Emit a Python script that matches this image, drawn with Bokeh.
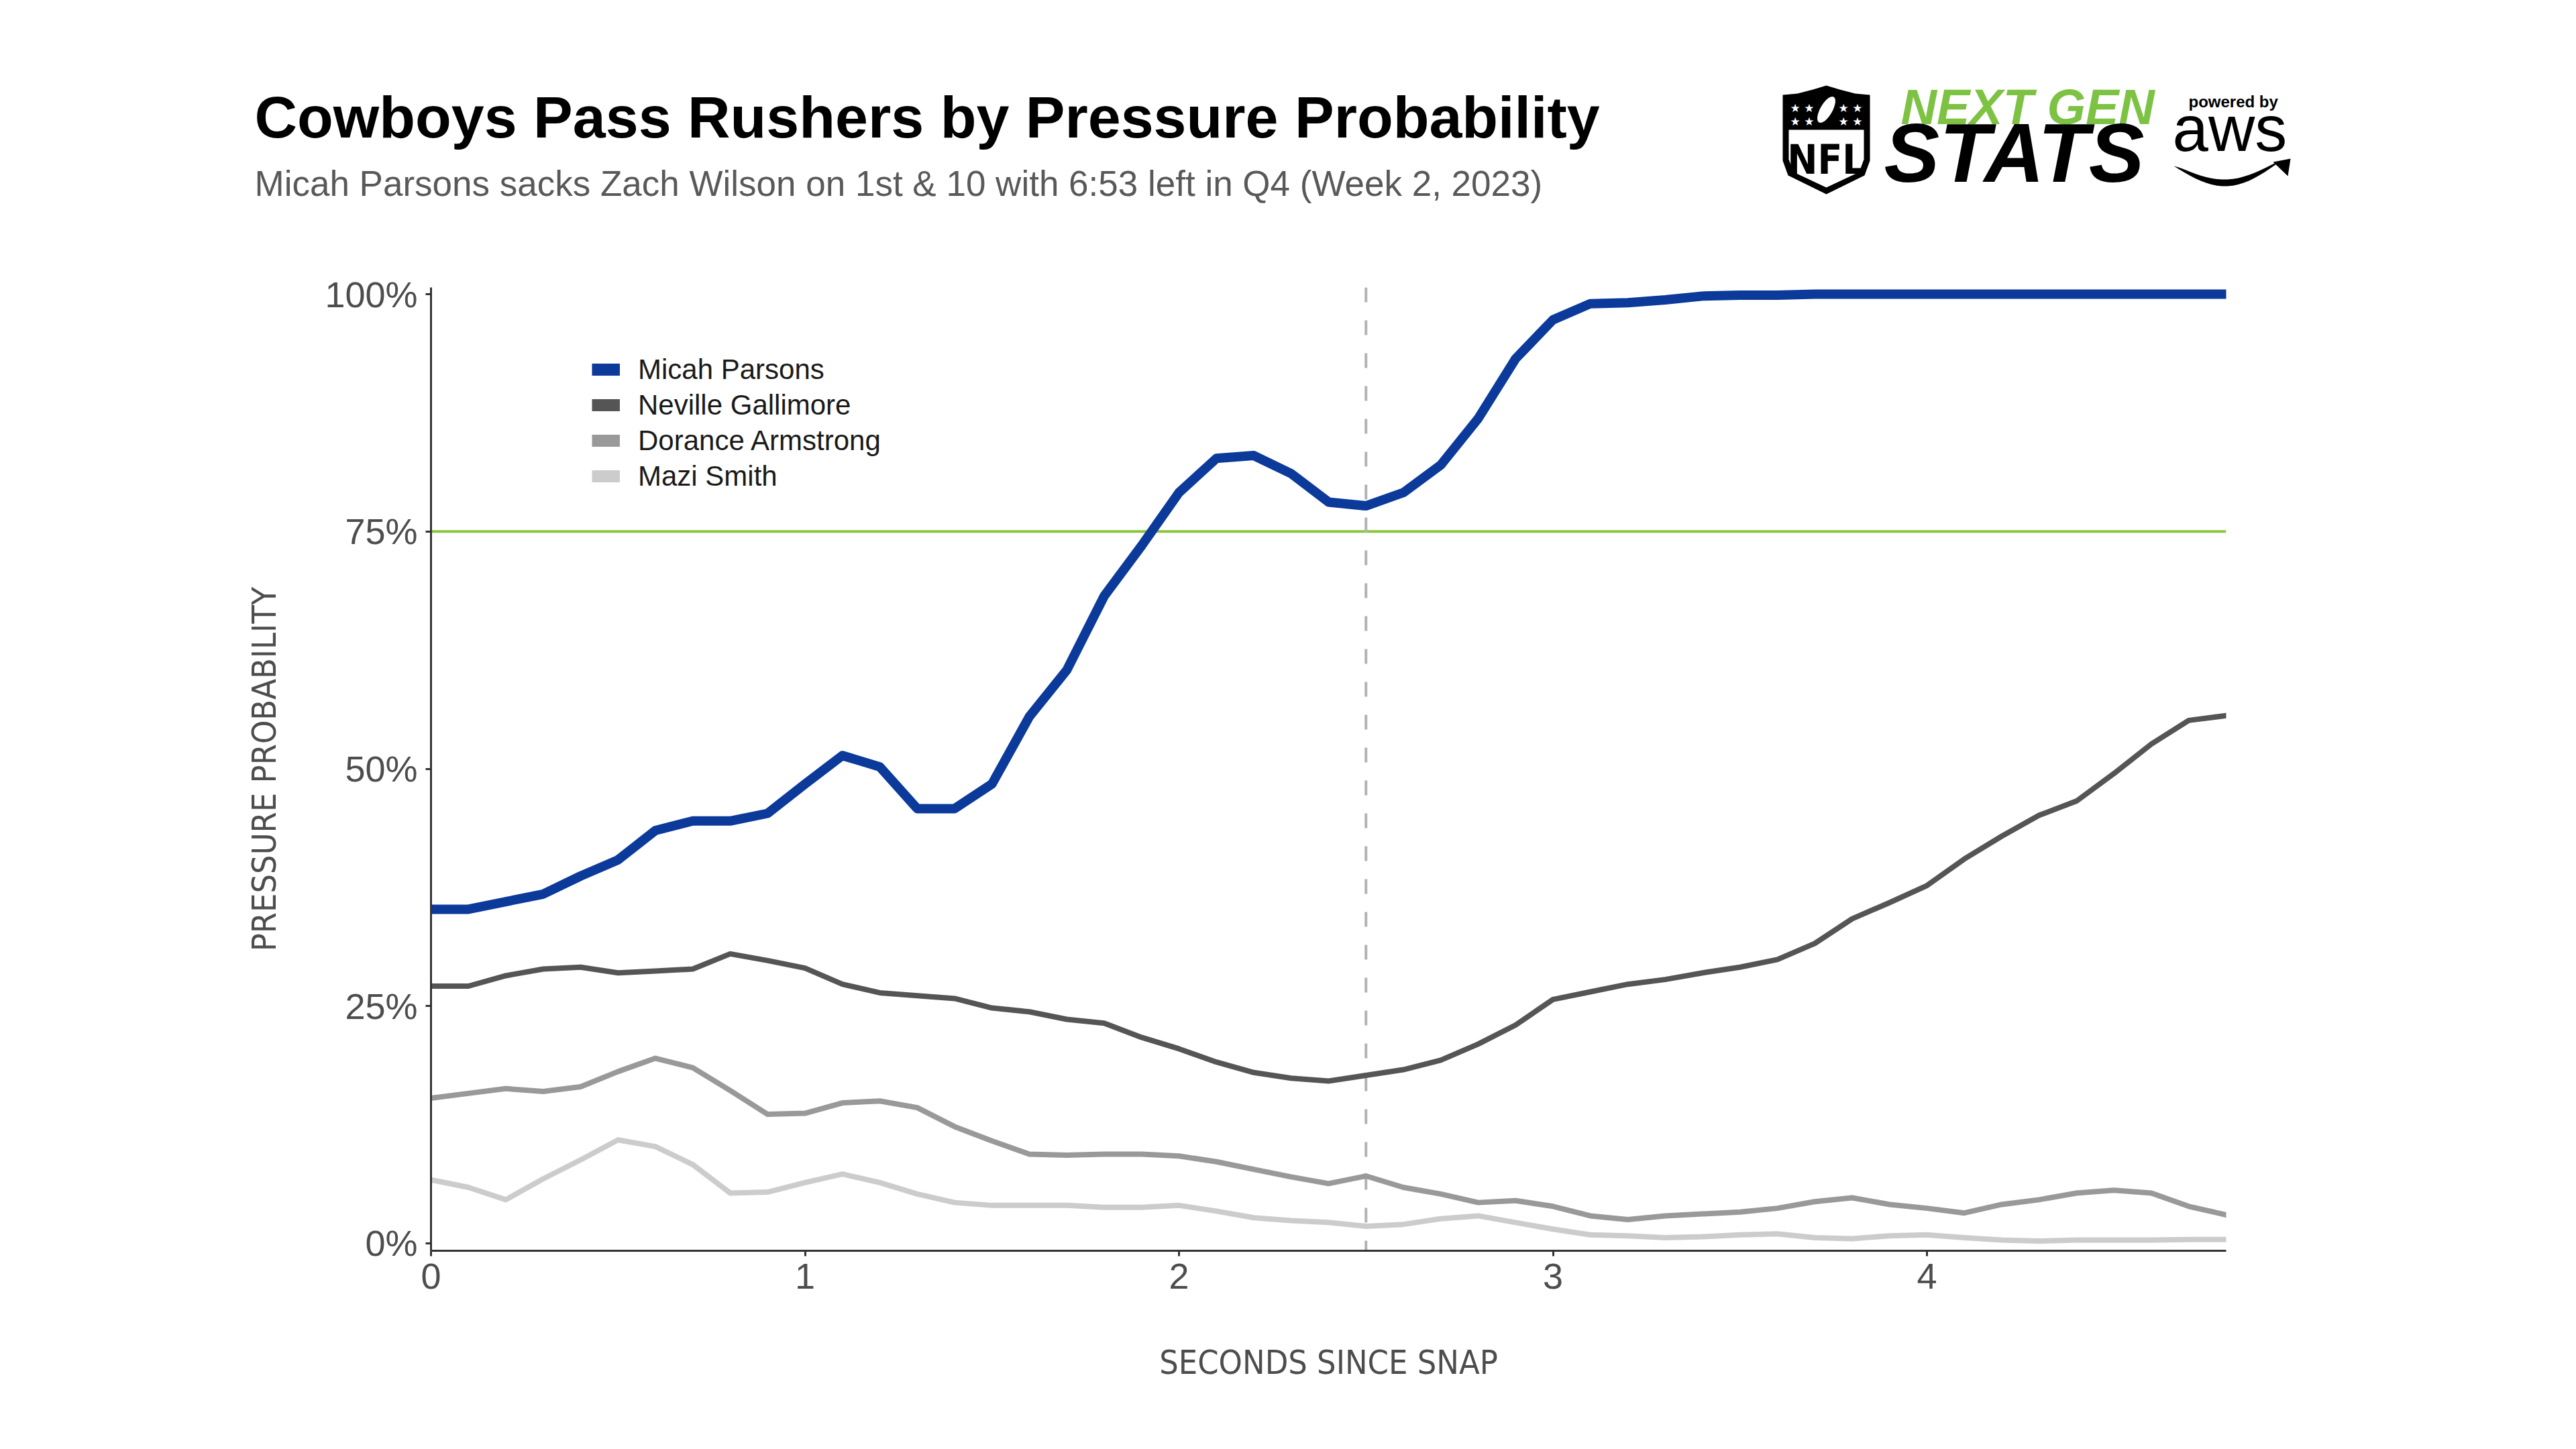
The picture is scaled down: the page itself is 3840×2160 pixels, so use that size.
import math
from bokeh.plotting import figure
from bokeh.models import (Span, Legend, LegendItem, FixedTicker, PrintfTickFormatter, Range1d)
from bokeh.core.properties import value
from bokeh.embed import file_html
from bokeh.resources import INLINE

# ---------------- data ----------------
seconds = [0.0, 0.1, 0.2, 0.3, 0.4, 0.5, 0.6, 0.7, 0.8, 0.9,
           1.0, 1.1, 1.2, 1.3, 1.4, 1.5, 1.6, 1.7, 1.8, 1.9,
           2.0, 2.1, 2.2, 2.3, 2.4, 2.5, 2.6, 2.7, 2.8, 2.9,
           3.0, 3.1, 3.2, 3.3, 3.4, 3.5, 3.6, 3.7, 3.8, 3.9,
           4.0, 4.1, 4.2, 4.3, 4.4, 4.5, 4.6, 4.7, 4.8]

micah_parsons = [35.2, 35.2, 36.0, 36.8, 38.7, 40.4, 43.5, 44.5, 44.5, 45.3,
                 48.4, 51.4, 50.2, 45.8, 45.8, 48.4, 55.5, 60.4, 68.2, 73.5,
                 79.1, 82.7, 83.0, 81.1, 78.1, 77.7, 79.1, 82.0, 86.9, 93.2,
                 97.3, 99.0, 99.1, 99.4, 99.8, 99.9, 99.9, 100.0, 100.0, 100.0,
                 100.0, 100.0, 100.0, 100.0, 100.0, 100.0, 100.0, 100.0, 100.0]

neville_gallimore = [27.1, 27.1, 28.2, 28.9, 29.1, 28.5, 28.7, 28.9, 30.5, 29.8,
                     29.0, 27.3, 26.4, 26.1, 25.8, 24.8, 24.4, 23.6, 23.2, 21.7,
                     20.5, 19.1, 18.0, 17.4, 17.1, 17.7, 18.3, 19.3, 21.0, 23.0,
                     25.7, 26.5, 27.3, 27.8, 28.5, 29.1, 29.9, 31.6, 34.2, 35.9,
                     37.7, 40.5, 42.9, 45.1, 46.6, 49.5, 52.6, 55.1, 55.6]

dorance_armstrong = [15.3, 15.8, 16.3, 16.0, 16.5, 18.1, 19.5, 18.5, 16.1, 13.6,
                     13.7, 14.8, 15.0, 14.3, 12.3, 10.8, 9.4, 9.3, 9.4, 9.4,
                     9.2, 8.6, 7.8, 7.0, 6.3, 7.1, 5.9, 5.2, 4.3, 4.5,
                     3.9, 2.9, 2.5, 2.9, 3.1, 3.3, 3.7, 4.4, 4.8, 4.1,
                     3.7, 3.2, 4.1, 4.6, 5.3, 5.6, 5.3, 3.9, 3.0]

mazi_smith = [6.7, 5.9, 4.6, 6.8, 8.8, 10.9, 10.2, 8.3, 5.3, 5.4,
              6.4, 7.3, 6.4, 5.2, 4.3, 4.0, 4.0, 4.0, 3.8, 3.8,
              4.0, 3.4, 2.7, 2.4, 2.2, 1.8, 2.0, 2.6, 2.9, 2.2,
              1.5, 0.9, 0.8, 0.6, 0.7, 0.9, 1.0, 0.6, 0.5, 0.8,
              0.9, 0.6, 0.35, 0.25, 0.35, 0.35, 0.35, 0.4, 0.4]

player_names = ["Micah Parsons", "Neville Gallimore", "Dorance Armstrong", "Mazi Smith"]
player_colors = ["#0b3a9a", "#555555", "#999999", "#cccccc"]

x_ticks = [0, 1, 2, 3, 4]
y_ticks = [0, 25, 50, 75, 100]
threshold = 75
sack_time = 2.5

title_text = "Cowboys Pass Rushers by Pressure Probability"
subtitle_text = "Micah Parsons sacks Zach Wilson on 1st & 10 with 6:53 left in Q4 (Week 2, 2023)"

BASE = "Liberation Sans"
NARROW = "DejaVu Sans Condensed, Liberation Sans"

W = 3824
HEAD_H = 340
MAIN_H = 2144 - HEAD_H
FL, FT, FR, FB = 642, 428, 3318, 1864   # frame edges in page pixels

# ---------------- header (title + logo), its own root so it is not frame-aligned ----------------
hd = figure(width=W, height=HEAD_H, x_range=Range1d(0, W), y_range=Range1d(HEAD_H, 0),
            x_axis_type=None, y_axis_type=None, output_backend="svg",
            toolbar_location=None, min_border_left=0, min_border_right=0,
            min_border_top=0, min_border_bottom=0)
hd.outline_line_color = None
hd.background_fill_color = "white"
hd.border_fill_color = "white"
hd.xgrid.visible = False
hd.ygrid.visible = False


def htext(text, x, y, size, color, style="normal", font=BASE, align="left"):
    # y is the wanted baseline; the glyph anchors about 0.36 em above it
    hd.text(x=[x], y=[y - 0.36 * size], text=[text], text_font=value(font),
            text_font_size=value(f"{size}px"), text_font_style=value(style),
            text_color=color, text_align=value(align), text_baseline=value("alphabetic"))


def hpatch(pts, color):
    hd.patch(x=[a for a, b in pts], y=[b for a, b in pts], fill_color=color,
             line_color=None)


htext(title_text, 379, 206, 88, "#000000", style="bold")
htext(subtitle_text, 379, 292, 53, "#595959")

# NFL shield
ox, oy = 2657, 127
outer = [(0, 14), (22, 12), (45, 6), (65, 0), (85, 6), (108, 12), (130, 14),
         (130, 112), (122, 134), (65, 162), (8, 134), (0, 112)]
inner = [(9, 66), (121, 66), (121, 110), (114, 129), (65, 152), (16, 129), (9, 110)]
hpatch([(ox + a, oy + b) for a, b in outer], "#000000")
hpatch([(ox + a, oy + b) for a, b in inner], "#ffffff")
ball = []
for k in range(24):
    t = 2 * math.pi * k / 24
    ex, ey = 9 * math.cos(t), 22 * math.sin(t)
    r = math.radians(30)
    ball.append((ox + 65 + ex * math.cos(r) - ey * math.sin(r),
                 oy + 36 + ex * math.sin(r) + ey * math.cos(r)))
hpatch(ball, "#ffffff")
for sx in (ox + 29, ox + 101):
    for sy in (oy + 40, oy + 60):
        htext("\u2605 \u2605", sx, sy, 17, "#ffffff", font="DejaVu Sans", align="center")
htext("NFL", ox + 65, oy + 132, 60, "#000000", style="bold", font=NARROW, align="center")

# NEXT GEN STATS
htext("NEXT GEN", 2833, 186, 74, "#7dc242", style="bold italic")
htext("STATS", 2808, 272, 124, "#000000", style="bold italic")

# powered by aws
htext("powered by", 3262, 160, 24, "#000000", style="bold")
htext("aws", 3238, 226, 96, "#000000")
smile = []
n = 20
for k in range(n + 1):
    t = k / n
    smile.append((3240 + 160 * t, 247 + 34 * math.sin(math.pi * t) - 8 * t))
for k in range(n, -1, -1):
    t = k / n
    smile.append((3240 + 160 * t, 247 + 34 * math.sin(math.pi * t) - 8 * t
                  - 10 * math.sin(math.pi * t) ** 0.7))
hpatch(smile, "#000000")
hpatch([(3388, 241), (3414, 236), (3410, 262)], "#000000")

# ---------------- main chart ----------------
p = figure(width=W, height=MAIN_H, x_range=(0, 4.8), y_range=(-0.78, 100.71),
           output_backend="svg", toolbar_location=None,
           min_border_left=FL, min_border_right=W - FR,
           min_border_top=FT - HEAD_H, min_border_bottom=MAIN_H - (FB - HEAD_H))
p.background_fill_color = "white"
p.border_fill_color = "white"
p.outline_line_color = None
p.xgrid.visible = False
p.ygrid.visible = False

for ax in (p.xaxis[0], p.yaxis[0]):
    ax.axis_line_color = "#333333"
    ax.axis_line_width = 3
    ax.major_tick_line_color = "#333333"
    ax.major_tick_line_width = 3
    ax.major_tick_in = 0
    ax.major_tick_out = 8
    ax.minor_tick_line_color = None
    ax.major_label_text_font = BASE
    ax.major_label_text_font_size = "54px"
    ax.major_label_text_color = "#4d4d4d"
    ax.axis_label_text_font = NARROW
    ax.axis_label_text_font_size = "50px"
    ax.axis_label_text_font_style = "normal"
    ax.axis_label_text_color = "#4d4d4d"

p.xaxis.ticker = FixedTicker(ticks=x_ticks)
p.yaxis.ticker = FixedTicker(ticks=y_ticks)
p.yaxis.formatter = PrintfTickFormatter(format="%d%%")
p.xaxis.major_label_standoff = 11
p.yaxis.major_label_standoff = 12
p.xaxis.axis_label = "SECONDS SINCE SNAP"
p.yaxis.axis_label = "PRESSURE PROBABILITY"
p.xaxis.axis_label_standoff = 78
p.yaxis.axis_label_standoff = 58

# reference lines (beneath the series)
p.add_layout(Span(location=threshold, dimension="width", line_color="#8cc63f",
                  line_width=4, level="underlay"))
p.add_layout(Span(location=sack_time, dimension="height", line_color="#b3b3b3",
                  line_width=4, line_dash="22 27", level="underlay"))

# series, light ones first so Parsons sits on top
series = [micah_parsons, neville_gallimore, dorance_armstrong, mazi_smith]
widths = [14, 8, 8, 8]
for vals, col, lw in reversed(list(zip(series, player_colors, widths))):
    p.line(seconds, vals, line_color=col, line_width=lw, line_join="round", line_cap="round")

# legend with uniform block keys
items = []
for name, col in zip(player_names, player_colors):
    dummy = p.line([float("nan"), float("nan")], [float("nan"), float("nan")],
                   line_color=col, line_width=18, line_cap="butt")
    items.append(LegendItem(label=name, renderers=[dummy]))
legend = Legend(items=items, location=(240, 1128), orientation="vertical",
                glyph_width=42, glyph_height=53, label_height=53, label_standoff=27,
                spacing=0, padding=0, margin=0, border_line_color=None,
                background_fill_alpha=0, label_text_font=BASE,
                label_text_font_size="42px", label_text_color="#1a1a1a")
p.add_layout(legend)

open("out.html", "w").write(file_html([hd, p], INLINE))
